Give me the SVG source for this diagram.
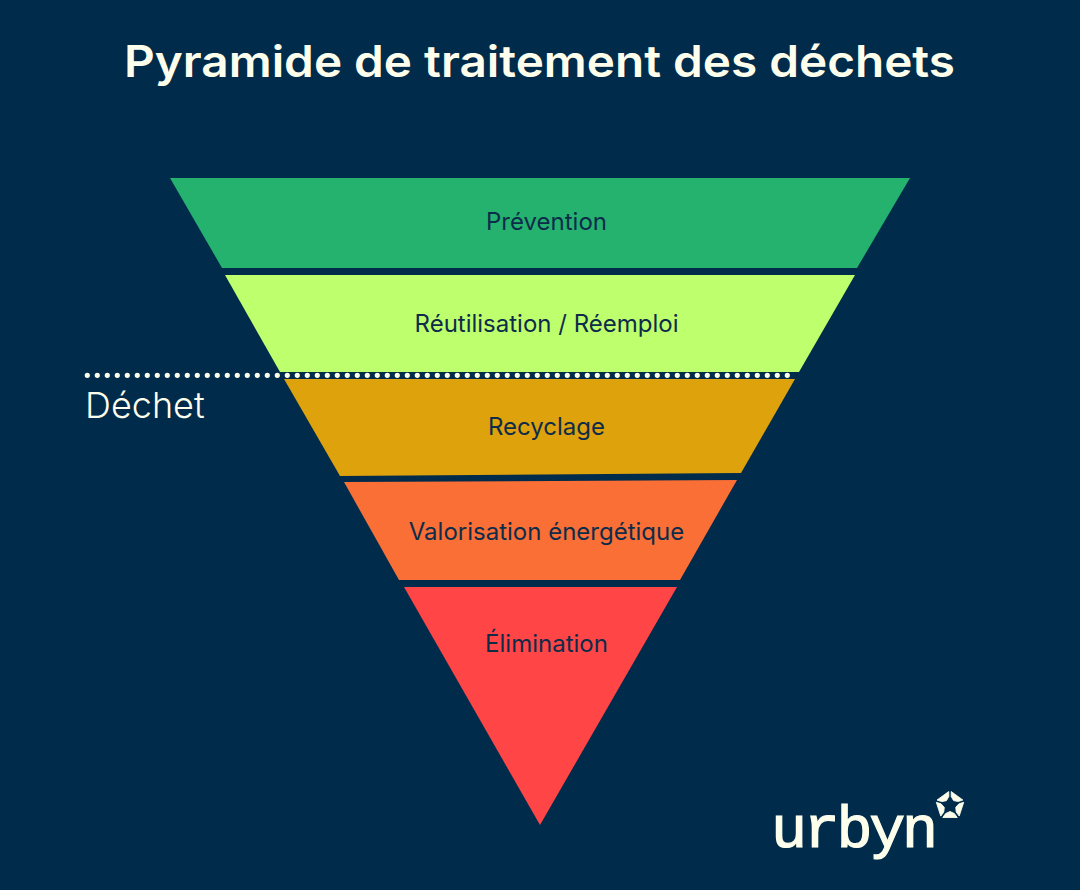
<svg xmlns="http://www.w3.org/2000/svg" width="1080" height="890" viewBox="0 0 1080 890">
<style>
.t{font-family:"Inter","Liberation Sans",sans-serif;fill:#fdffec}
.l{font-family:"Inter","Liberation Sans",sans-serif;font-size:24px;fill:#0e2c4a;text-anchor:middle}
.p{fill:#fdffec;stroke:#fdffec;stroke-width:.8;stroke-linejoin:round}
</style>
<defs><polygon id="piece" class="p" points="1.200,-14 12.900,-5.500 8.200,-3.900 3.500,-4.900 1.200,-9"/></defs>
<rect width="1080" height="890" fill="#012b4b"/>
<text id="title" class="t" x="124" y="77" font-size="44" font-weight="600" textLength="831" lengthAdjust="spacingAndGlyphs">Pyramide de traitement des déchets</text>
<g id="prevention"><polygon points="170,178 910,178 857,268 222,268" fill="#24b26e"/><text class="l" x="546.500" y="230">Prévention</text></g>
<g id="reutilisation"><polygon points="225,275 855,275 799,372 280,372" fill="#beff6e"/><text class="l" x="546.500" y="332">Réutilisation / Réemploi</text></g>
<g id="recyclage"><polygon points="284,379 795,379 741,473 340,476" fill="#dea20c"/><text class="l" x="546.500" y="435">Recyclage</text></g>
<g id="valorisation"><polygon points="344,482 737,480 680,580 399,580" fill="#f96f36"/><text class="l" x="546.500" y="540">Valorisation énergétique</text></g>
<g id="elimination"><polygon points="404,587 677,587 540,825" fill="#ff4545"/><text class="l" x="546.500" y="652">Élimination</text></g>
<g id="connectors"><line x1="87.300" y1="375.300" x2="788" y2="375.300" stroke="#fdffec" stroke-width="5.200" stroke-linecap="round" stroke-dasharray="0 10"/></g>
<text id="dechet" class="t" x="85" y="418" font-size="36" font-weight="300">Déchet</text>
<g id="logo"><text x="771" y="847" style="font-family:'Liberation Mono',monospace;fill:#fdffec;stroke:#fdffec;stroke-width:1.200" font-size="60" textLength="167">urbyn</text>
<g transform="translate(950,805.500)"><use href="#piece"/><use href="#piece" transform="rotate(72)"/><use href="#piece" transform="rotate(144)"/><use href="#piece" transform="rotate(216)"/><use href="#piece" transform="rotate(288)"/></g></g>
</svg>
